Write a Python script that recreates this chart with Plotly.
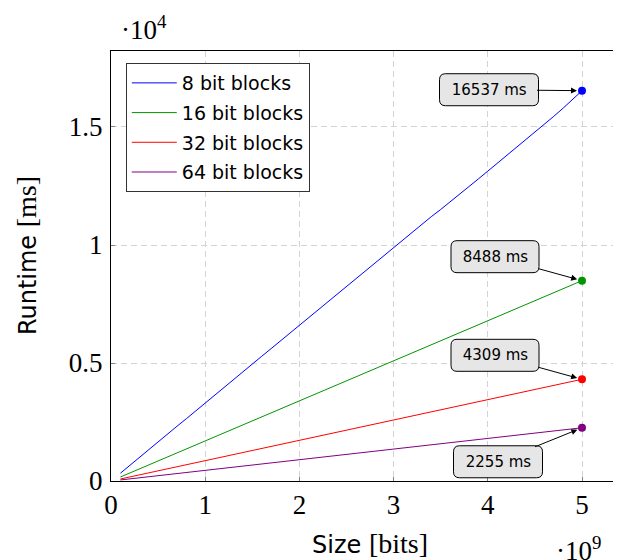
import plotly.graph_objects as go

# ---- data ----
size_bits = [i / 10 * 1e9 for i in range(1, 51)]  # 0.1e9 .. 5.0e9

runtime_8 = [330, 668, 995, 1322, 1650, 1985, 2318, 2640, 2975, 3300,
             3630, 3965, 4290, 4620, 4955, 5285, 5610, 5940, 6270, 6600,
             6930, 7255, 7590, 7920, 8250, 8580, 8905, 9235, 9570, 9900,
             10225, 10540, 10870, 11200, 11505, 11820, 12160, 12490, 12800, 13130,
             13460, 13780, 14120, 14440, 14760, 15110, 15450, 15800, 16170, 16537]
runtime_16 = [170, 340, 508, 678, 848, 1018, 1186, 1356, 1525, 1695,
              1866, 2036, 2204, 2374, 2545, 2714, 2884, 3054, 3222, 3393,
              3562, 3732, 3900, 4072, 4240, 4410, 4580, 4750, 4918, 5090,
              5258, 5428, 5598, 5768, 5935, 6105, 6280, 6445, 6620, 6790,
              6950, 7120, 7300, 7460, 7640, 7800, 7980, 8150, 8320, 8488]
runtime_32 = [86, 172, 258, 344, 431, 517, 603, 690, 776, 862,
              948, 1034, 1120, 1206, 1293, 1380, 1465, 1551, 1638, 1724,
              1810, 1896, 1982, 2069, 2155, 2240, 2327, 2413, 2500, 2586,
              2672, 2758, 2844, 2930, 3016, 3102, 3190, 3275, 3362, 3448,
              3534, 3620, 3705, 3792, 3880, 3965, 4052, 4138, 4222, 4309]
runtime_64 = [45, 90, 135, 180, 226, 271, 316, 361, 406, 451,
              496, 541, 586, 631, 677, 722, 767, 812, 857, 902,
              947, 992, 1037, 1082, 1128, 1173, 1218, 1263, 1308, 1353,
              1398, 1443, 1488, 1534, 1579, 1624, 1669, 1714, 1759, 1804,
              1849, 1894, 1940, 1985, 2030, 2075, 2120, 2165, 2210, 2255]

series_names = ["8 bit blocks", "16 bit blocks", "32 bit blocks", "64 bit blocks"]
series_values = [runtime_8, runtime_16, runtime_32, runtime_64]
series_colors = ["#0000ff", "#009600", "#ff0000", "#800080"]

x_tickvals = [0, 1e9, 2e9, 3e9, 4e9, 5e9]
x_ticktext = ["0", "1", "2", "3", "4", "5"]
y_tickvals = [0, 5000, 10000, 15000]
y_ticktext = ["0", "0.5", "1", "1.5"]

# ---- style ----
# label box offsets (pixels, box centre relative to end point; +y = down) and box sizes
label_offsets = [(-93, -1), (-87, -24), (-87, -24), (-84, 34)]
label_box_w = [99, 88, 88, 89]
label_box_h = 32
corner_r = 6

SANS = "DejaVu Sans"
SERIF = "Liberation Serif"

fig = go.Figure()
for i, (name, vals, col) in enumerate(zip(series_names, series_values, series_colors)):
    fig.add_trace(go.Scatter(x=size_bits, y=vals, mode="lines", name=name,
                             line=dict(color=col, width=1), legendgroup=f"g{i}"))
for vals, col in zip(series_values, series_colors):
    fig.add_trace(go.Scatter(x=[size_bits[-1]], y=[vals[-1]], mode="markers",
                             marker=dict(color=col, size=8), showlegend=False))


def rounded_rect(cx, cy, w, h, r):
    x0, x1 = cx - w / 2, cx + w / 2
    y0, y1 = cy - h / 2, cy + h / 2
    return (f"M {x0 + r},{y0} L {x1 - r},{y0} Q {x1},{y0} {x1},{y0 + r} "
            f"L {x1},{y1 - r} Q {x1},{y1} {x1 - r},{y1} L {x0 + r},{y1} "
            f"Q {x0},{y1} {x0},{y1 - r} L {x0},{y0 + r} Q {x0},{y0} {x0 + r},{y0} Z")


shapes = []
annotations = []
for vals, (ax, ay), bw in zip(series_values, label_offsets, label_box_w):
    shapes.append(dict(
        type="path", xref="x", yref="y", xsizemode="pixel", ysizemode="pixel",
        xanchor=size_bits[-1], yanchor=vals[-1],
        path=rounded_rect(ax, -ay, bw, label_box_h, corner_r),
        fillcolor="#e6e6e6", line=dict(color="black", width=1), layer="above"))
    annotations.append(dict(
        x=size_bits[-1], y=vals[-1], xref="x", yref="y",
        text=f"&nbsp;{vals[-1]} ms&nbsp;", showarrow=True, ax=ax, ay=ay,
        arrowhead=2, arrowsize=1.2, arrowwidth=1, arrowcolor="black", standoff=5,
        font=dict(family=SANS, size=15, color="black"),
        bgcolor="rgba(0,0,0,0)", borderwidth=0, borderpad=6))

annotations += [
    dict(xref="paper", yref="paper", x=0, y=0.523, xshift=-85, showarrow=False,
         text=f"Runtime <span style='font-family:{SERIF}; font-size:28px'>[ms]</span>",
         textangle=-90,
         font=dict(family=SANS, size=24, color="black"), xanchor="center", yanchor="middle"),
    dict(xref="paper", yref="paper", x=0.508, y=0, yshift=-62, showarrow=False,
         text=f"Size <span style='font-family:{SERIF}; font-size:28px'>[bits]</span>",
         font=dict(family=SANS, size=24, color="black"), xanchor="center", yanchor="middle"),
    dict(xref="paper", yref="paper", x=0.065, y=1, yshift=23, showarrow=False,
         text="·10<sup>4</sup>", font=dict(family=SERIF, size=27, color="black"),
         xanchor="center", yanchor="middle"),
    dict(xref="paper", yref="paper", x=0.916, y=0, yshift=-68, showarrow=False,
         text="·10<sup>9</sup>", font=dict(family=SERIF, size=27, color="black"),
         xanchor="center", yanchor="middle"),
]

axis_common = dict(showline=True, linecolor="black", linewidth=1, mirror=True,
                   showgrid=True, gridcolor="#d3d3d3", griddash="6px,4px", gridwidth=1,
                   zeroline=False, ticks="inside", ticklen=4, tickcolor="#808080",
                   tickfont=dict(family=SERIF, size=27, color="black"))

# page body has an 8px margin, so the figure is 8px smaller than the window
fig.update_layout(
    width=613, height=552,
    margin=dict(l=103, r=0, t=43, b=79),
    plot_bgcolor="white", paper_bgcolor="white",
    xaxis=dict(range=[0, 5.414e9], tickvals=x_tickvals, ticktext=x_ticktext, **axis_common),
    yaxis=dict(range=[0, 18220], tickvals=y_tickvals, ticktext=y_ticktext,
               ticklabelstandoff=2, **axis_common),
    legend=dict(x=0.029, y=0.972, xanchor="left", yanchor="top",
                bgcolor="white", bordercolor="#333333", borderwidth=1,
                font=dict(family=SANS, size=19, color="black"), tracegroupgap=2,
                itemwidth=45),
    annotations=annotations,
    shapes=shapes,
    showlegend=True,
)

fig.write_html("out.html")
